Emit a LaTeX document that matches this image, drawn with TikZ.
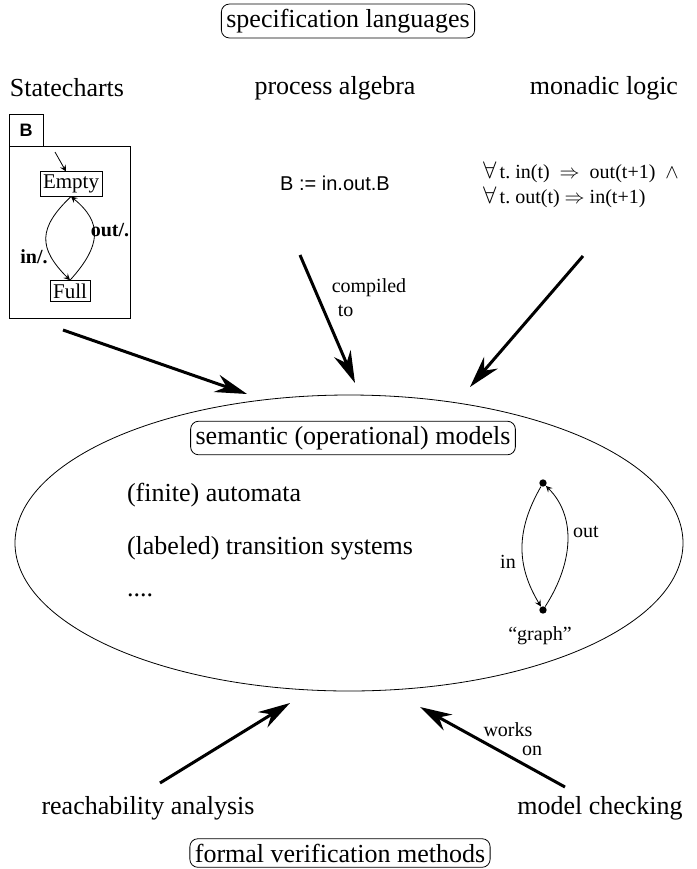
\documentclass[tikz,border=0pt]{standalone}
\usepackage{fontspec}
\setmainfont{Liberation Serif}
\setsansfont{Liberation Sans}
\usetikzlibrary{shapes,positioning,arrows,arrows.meta,calc}

\begin{document}
\begin{tikzpicture}[x=0.5pt,y=-0.5pt]
\tikzstyle{title}=[draw, rounded corners=4pt, inner sep=2.5pt, font=\fontsize{13}{15}\selectfont];
\tikzstyle{big}=[font=\fontsize{13}{15}\selectfont];
\tikzstyle{small}=[font=\fontsize{10}{12}\selectfont];
\tikzstyle{state}=[draw, rectangle, inner sep=1.5pt, font=\fontsize{10.5}{12}\selectfont];
\tikzstyle{heavy}=[line width=1.5pt, -{Stealth[length=16pt,width=9pt]}];
\tikzstyle{dot}=[circle, fill, inner sep=1.3pt];
\useasboundingbox (0,0) rectangle (697,869);
\begin{scope}[>=stealth]
  % specification languages
  \node (spec) at (348,21) [title]{specification languages};
  \node (statecharts) at (67,88) [big]{Statecharts};
  \node (procalg) at (335,88) [big]{process algebra};
  \node (monadic) at (604,88) [big]{monadic logic};

  % statechart B
  \draw (9,318) -- (9,114) -- (43,114) -- (43,146);
  \draw (9,146) -- (130,146) -- (130,318) -- (9,318);
  \node (tab) at (26,130) [font=\sffamily\bfseries\fontsize{9}{10}\selectfont]{B};
  \node (empty) at (71,184) [state]{Empty};
  \node (full) at (70,291) [state]{Full};
  \coordinate (init) at (55,152);
  \draw[->] (init) -- ($(empty.north)+(-5,0)$);
  \draw[->] (empty.south) .. controls (38,228) and (38,248) .. (full.north);
  \draw[->] (full.north) .. controls (102,245) and (102,222) .. (empty.south);
  \node (inlab) at (34,257) [small]{\bfseries in/.};
  \node (outlab) at (110,230) [small]{\bfseries out/.};

  % process algebra
  \node (procterm) at (335,183) [font=\sffamily\fontsize{10}{12}\selectfont]{B := in.out.B};
  \node (compiled) at (369,298) [small, align=left]{compiled\\\hspace{3pt}to};

  % monadic logic
  \node (formula1) at (476,172) [small, anchor=west]{{\large$\forall$}\,t.\ in(t) \ $\Rightarrow$\ \ out(t+1) \ $\wedge$};
  \node (formula2) at (476,197) [small, anchor=west]{{\large$\forall$}\,t.\ out(t) $\Rightarrow$\ in(t+1)};

  % semantic models
  \node (semantics) at (349,543) [draw, ellipse, minimum width=334pt, minimum height=148pt]{};
  \node (models) at (353,438) [title]{semantic (operational) models};
  \node (automata) at (120,495) [big, anchor=west]{(finite) automata};
  \node (lts) at (120,548) [big, anchor=west]{(labeled) transition systems};
  \node (etc) at (120,595) [big, anchor=west]{....};

  % graph
  \node (gtop) at (543,483) [dot]{};
  \node (gbot) at (543,610) [dot]{};
  \draw[->] (gtop) .. controls (516,530) and (516,565) .. (gbot);
  \draw[->] (gbot) .. controls (575,560) and (575,515) .. (gtop);
  \node (gin) at (508,562) [small]{in};
  \node (gout) at (586,532) [small]{out};
  \node (graph) at (540,636) [small]{``graph''};

  % verification methods
  \node (reach) at (148,808) [big]{reachability analysis};
  \node (mc) at (600,808) [big]{model checking};
  \node (verif) at (340,853) [title]{formal verification methods};

  % heavy arrows
  \coordinate (fromsc) at (63,330);
  \coordinate (tosc) at (247,394);
  \coordinate (frompa) at (300,255);
  \coordinate (topa) at (355,383);
  \coordinate (fromml) at (583,256);
  \coordinate (toml) at (470,387);
  \coordinate (fromra) at (160,783);
  \coordinate (tora) at (290,703);
  \coordinate (frommc) at (565,787);
  \coordinate (tomc) at (420,707);
  \draw[heavy] (fromsc) -- (tosc);
  \draw[heavy] (frompa) -- (topa);
  \draw[heavy] (fromml) -- (toml);
  \draw[heavy] (fromra) -- (tora);
  \draw[heavy] (frommc) -- (tomc);
  \node (works) at (508,730) [small]{works};
  \node (on) at (532,751) [small]{on};
\end{scope}
\end{tikzpicture}
\end{document}
